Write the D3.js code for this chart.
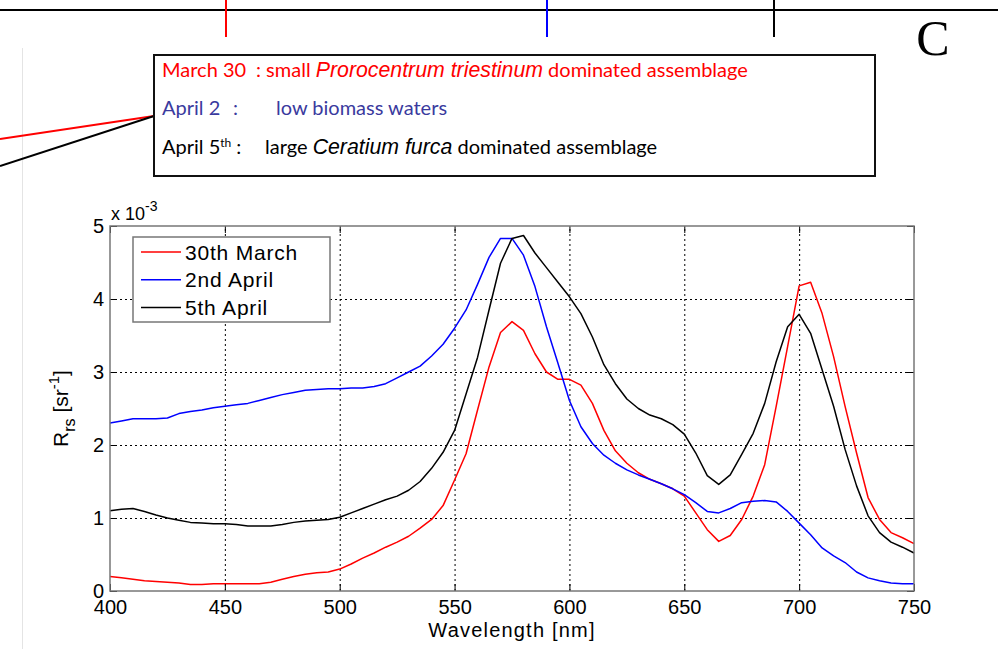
<!DOCTYPE html>
<html>
<head>
<meta charset="utf-8">
<script src="https://cdn.jsdelivr.net/npm/d3@7"></script>
<style>
  body { margin: 0; background: #fff; }
  svg { display: block; }
  .tick text { font-family: Arial, "Liberation Sans", Helvetica, sans-serif; font-size: 20px; fill: #000; }
  .note { font-family: Lato, "Open Sans", sans-serif; font-size: 20px; }
  .ital { font-family: Arial, "Liberation Sans", sans-serif; font-style: italic; font-size: 21.3px; }
</style>
</head>
<body>
<div id="chart"></div>
<script>
const width = 998,
height = 649,
margin = { top: 226, bottom: 58, left: 110, right: 84 };

// wavelength grid (nm), sampled every 5 nm
const wavelengths = d3.range(400, 751, 5);

// Rrs values in units of 1e-3 sr^-1
const march30 = [
  0.20, 0.18, 0.16, 0.14, 0.13, 0.12, 0.11, 0.09, 0.09, 0.10,
  0.10, 0.10, 0.10, 0.10, 0.12, 0.16, 0.20, 0.23, 0.25, 0.26,
  0.30, 0.37, 0.45, 0.52, 0.60, 0.67, 0.75, 0.86, 0.98, 1.17,
  1.52, 1.88, 2.48, 3.07, 3.54, 3.69, 3.57, 3.25, 3.00, 2.90,
  2.90, 2.82, 2.57, 2.20, 1.92, 1.75, 1.62, 1.53, 1.47, 1.40,
  1.30, 1.07, 0.84, 0.68, 0.76, 0.98, 1.30, 1.73, 2.53, 3.35,
  4.18, 4.23, 3.80, 3.21, 2.53, 1.89, 1.28, 0.98, 0.80, 0.73,
  0.65
];
const april2 = [
  2.30, 2.33, 2.36, 2.36, 2.36, 2.37, 2.43, 2.46, 2.48, 2.51,
  2.53, 2.55, 2.57, 2.61, 2.65, 2.69, 2.72, 2.75, 2.76, 2.77,
  2.77, 2.78, 2.78, 2.80, 2.84, 2.92, 3.00, 3.08, 3.22, 3.38,
  3.60, 3.85, 4.20, 4.57, 4.83, 4.83, 4.60, 4.17, 3.62, 3.12,
  2.61, 2.25, 2.02, 1.86, 1.75, 1.66, 1.59, 1.53, 1.47, 1.40,
  1.32, 1.21, 1.09, 1.07, 1.13, 1.21, 1.23, 1.24, 1.22, 1.09,
  0.93, 0.77, 0.59, 0.48, 0.39, 0.26, 0.18, 0.14, 0.11, 0.10,
  0.10
];
const april5 = [
  1.10, 1.12, 1.13, 1.09, 1.04, 1.00, 0.97, 0.94, 0.93, 0.92,
  0.92, 0.91, 0.89, 0.89, 0.89, 0.91, 0.94, 0.96, 0.97, 0.98,
  1.01, 1.07, 1.13, 1.19, 1.25, 1.30, 1.38, 1.50, 1.68, 1.90,
  2.20, 2.70, 3.20, 3.85, 4.49, 4.83, 4.87, 4.63, 4.43, 4.23,
  4.03, 3.80, 3.48, 3.10, 2.84, 2.63, 2.50, 2.41, 2.36, 2.28,
  2.15, 1.89, 1.58, 1.46, 1.59, 1.87, 2.16, 2.57, 3.14, 3.62,
  3.79, 3.53, 3.03, 2.53, 1.94, 1.44, 1.03, 0.80, 0.67, 0.60,
  0.52
];

const seriesNames = ["30th March", "2nd April", "5th April"];
const seriesColors = ["#ff0000", "#0000ff", "#000000"];
const seriesValues = [march30, april2, april5];

const xTicks = [400, 450, 500, 550, 600, 650, 700, 750];
const yTicks = [0, 1, 2, 3, 4, 5];

const svg = d3.select("#chart")
  .append("svg")
  .attr("width", width)
  .attr("height", height);

// ---- panel decorations above the chart ----
svg.append("line")
  .attr("x1", 22.5).attr("x2", 22.5).attr("y1", 48).attr("y2", height)
  .attr("stroke", "#e4e4e4").attr("stroke-width", 1);

svg.append("line")
  .attr("x1", 0).attr("x2", width).attr("y1", 10).attr("y2", 10)
  .attr("stroke", "#000").attr("stroke-width", 2);

[[226, "#ff0000"], [547, "#0000ff"], [774, "#000000"]].forEach(([x, c]) => {
  svg.append("line")
    .attr("x1", x).attr("x2", x).attr("y1", 0).attr("y2", 37)
    .attr("stroke", c).attr("stroke-width", 2);
});

svg.append("text")
  .attr("x", 933).attr("y", 55)
  .attr("text-anchor", "middle")
  .style("font-family", "'Liberation Serif', 'Times New Roman', serif")
  .style("font-size", "50px")
  .text("C");

// pointer lines into the note box
svg.append("line")
  .attr("x1", 0).attr("y1", 139).attr("x2", 154).attr("y2", 116)
  .attr("stroke", "#ff0000").attr("stroke-width", 2);
svg.append("line")
  .attr("x1", 0).attr("y1", 166).attr("x2", 154).attr("y2", 116)
  .attr("stroke", "#000").attr("stroke-width", 2);

svg.append("rect")
  .attr("x", 154).attr("y", 55).attr("width", 721).attr("height", 121)
  .attr("fill", "#fff").attr("stroke", "#111").attr("stroke-width", 2);

const note1 = svg.append("text").attr("class", "note").attr("x", 162).attr("y", 77).attr("fill", "#ff0000");
note1.append("tspan").text("March 30");
note1.append("tspan").attr("x", 256).text(": small ");
note1.append("tspan").attr("class", "ital").text("Prorocentrum triestinum");
note1.append("tspan").text(" dominated assemblage");

const note2 = svg.append("text").attr("class", "note").attr("x", 162).attr("y", 115).attr("fill", "#3a3a9e");
note2.append("tspan").text("April 2");
note2.append("tspan").attr("x", 233).text(":");
note2.append("tspan").attr("x", 276).text("low biomass waters");

const note3 = svg.append("text").attr("class", "note").attr("x", 162).attr("y", 154).attr("fill", "#000");
note3.append("tspan").text("April 5");
note3.append("tspan").attr("dy", -7).style("font-size", "12px").text("th");
note3.append("tspan").attr("dy", 7).text(" :");
note3.append("tspan").attr("x", 265).text("large ");
note3.append("tspan").attr("class", "ital").text("Ceratium furca");
note3.append("tspan").text(" dominated assemblage");

// ---- chart ----
const xScale = d3.scaleLinear()
  .domain([400, 750])
  .range([margin.left, width - margin.right]);

const yScale = d3.scaleLinear()
  .domain([0, 5])
  .range([height - margin.bottom, margin.top]);

const plotW = width - margin.left - margin.right;
const plotH = height - margin.top - margin.bottom;

// dotted grid
svg.append("g")
  .attr("class", "grid")
  .attr("transform", `translate(0,${height - margin.bottom})`)
  .call(d3.axisBottom(xScale).tickValues(xTicks.slice(1, -1)).tickSize(-plotH).tickFormat(""))
  .call(g => g.select(".domain").remove())
  .call(g => g.selectAll("line").attr("stroke", "#000").attr("stroke-dasharray", "2,3"));

svg.append("g")
  .attr("class", "grid")
  .attr("transform", `translate(${margin.left},0)`)
  .call(d3.axisLeft(yScale).tickValues(yTicks.slice(1, -1)).tickSize(-plotW).tickFormat(""))
  .call(g => g.select(".domain").remove())
  .call(g => g.selectAll("line").attr("stroke", "#000").attr("stroke-dasharray", "2,3"));

// curves
const line = d3.line()
  .x((d, i) => xScale(wavelengths[i]))
  .y(d => yScale(d));

svg.selectAll(".curve")
  .data(seriesValues)
  .join("path")
  .attr("class", "curve")
  .attr("d", line)
  .attr("fill", "none")
  .attr("stroke", (d, i) => seriesColors[i])
  .attr("stroke-width", 1.5)
  .attr("stroke-linejoin", "round");

// axes with inward ticks
svg.append("g")
  .attr("class", "axis x-axis")
  .attr("transform", `translate(0,${height - margin.bottom})`)
  .call(d3.axisBottom(xScale).tickValues(xTicks).tickSize(-7).tickPadding(9).tickFormat(d3.format("d")))
  .call(g => g.select(".domain").remove())
  .call(g => g.selectAll("line").attr("stroke", "#000"));

svg.append("g")
  .attr("transform", `translate(0,${margin.top})`)
  .call(d3.axisTop(xScale).tickValues(xTicks).tickSize(-7).tickFormat(""))
  .call(g => g.select(".domain").remove())
  .call(g => g.selectAll("line").attr("stroke", "#000"));

svg.append("g")
  .attr("class", "axis y-axis")
  .attr("transform", `translate(${margin.left},0)`)
  .call(d3.axisLeft(yScale).tickValues(yTicks).tickSize(-7).tickPadding(6).tickFormat(d3.format("d")))
  .call(g => g.select(".domain").remove())
  .call(g => g.selectAll("line").attr("stroke", "#000"));

svg.append("g")
  .attr("transform", `translate(${width - margin.right},0)`)
  .call(d3.axisRight(yScale).tickValues(yTicks).tickSize(-7).tickFormat(""))
  .call(g => g.select(".domain").remove())
  .call(g => g.selectAll("line").attr("stroke", "#000"));

svg.append("rect")
  .attr("x", margin.left).attr("y", margin.top)
  .attr("width", plotW).attr("height", plotH)
  .attr("fill", "none").attr("stroke", "#777").attr("stroke-width", 1.5);

// exponent label
const expo = svg.append("text")
  .attr("x", margin.left + 1).attr("y", margin.top - 6)
  .style("font-family", "Arial, 'Liberation Sans', sans-serif")
  .style("font-size", "18px");
expo.append("tspan").text("x 10");
expo.append("tspan").attr("dy", -9).style("font-size", "14px").text("-3");

// axis labels
svg.append("text")
  .attr("x", (margin.left + width - margin.right) / 2)
  .attr("y", 637)
  .attr("text-anchor", "middle")
  .style("font-family", "Arial, 'Liberation Sans', sans-serif")
  .style("font-size", "20px")
  .style("letter-spacing", "1.2px")
  .text("Wavelength [nm]");

const ylab = svg.append("text")
  .attr("transform", `translate(68,${(margin.top + height - margin.bottom) / 2}) rotate(-90)`)
  .attr("text-anchor", "middle")
  .style("font-family", "Arial, 'Liberation Sans', sans-serif")
  .style("font-size", "21px");
ylab.append("tspan").text("R");
ylab.append("tspan").attr("dy", 7).style("font-size", "16px").text("rs");
ylab.append("tspan").attr("dy", -7).text(" [sr");
ylab.append("tspan").attr("dy", -9).style("font-size", "15px").text("-1");
ylab.append("tspan").attr("dy", 9).text("]");

// legend
const legend = svg.append("g").attr("transform", "translate(133,237)");
legend.append("rect")
  .attr("width", 197).attr("height", 85)
  .attr("fill", "#fff").attr("stroke", "#777").attr("stroke-width", 1.5);

const rows = legend.selectAll(".row")
  .data(seriesNames)
  .join("g")
  .attr("class", "row")
  .attr("transform", (d, i) => `translate(0,${15 + i * 27.7})`);

rows.append("line")
  .attr("x1", 8).attr("x2", 48)
  .attr("stroke", (d, i) => seriesColors[i])
  .attr("stroke-width", 1.5);

rows.append("text")
  .attr("x", 52).attr("dy", "0.36em")
  .style("font-family", "Arial, 'Liberation Sans', sans-serif")
  .style("font-size", "21px")
  .style("letter-spacing", "0.8px")
  .text(d => d);
</script>
</body>
</html>
